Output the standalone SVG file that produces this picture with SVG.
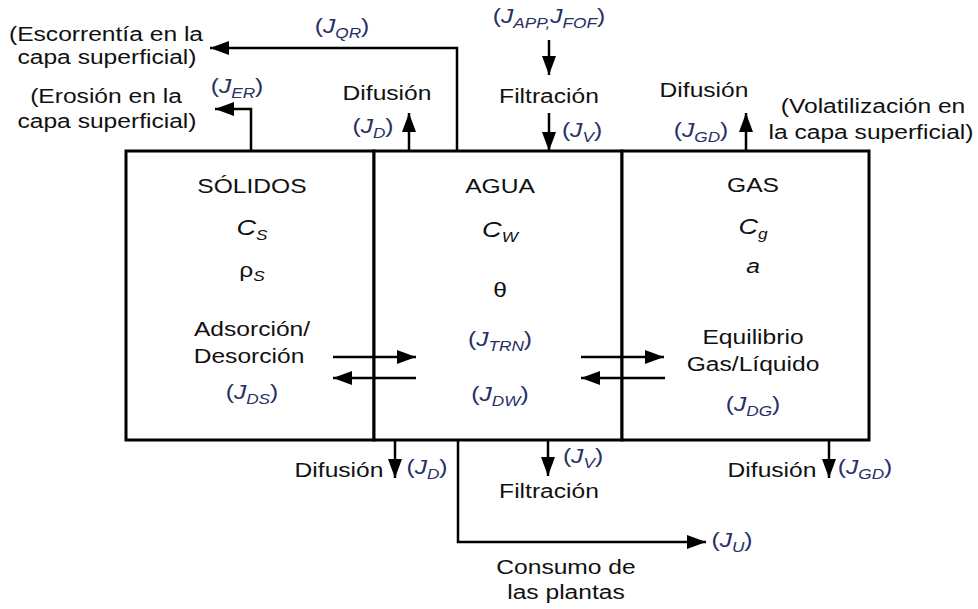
<svg xmlns="http://www.w3.org/2000/svg" width="978" height="609" viewBox="0 0 978 609">
<defs>
<marker id="ah" markerUnits="userSpaceOnUse" markerWidth="20" markerHeight="14" refX="19" refY="7" orient="auto">
<path d="M0,0 L19,7 L0,14 Z" fill="#000"/>
</marker>
<style>
text{font-family:"Liberation Sans",Arial,sans-serif;font-size:20px;fill:#111;text-anchor:middle}
.j{fill:#283064}
.i{font-style:italic}
.sub{font-size:14px;font-style:italic}
.ln{fill:none;stroke:#000;stroke-width:2.5}
.box{fill:#fff;stroke:#000;stroke-width:3}
</style>
</defs>
<rect width="978" height="609" fill="#fff"/>

<g id="solidos">
<rect class="box" x="126" y="151" width="248" height="289"/>
<text transform="translate(252,193) scale(1.23,1)">SÓLIDOS</text>
<text transform="translate(252,235) scale(1.23,1)"><tspan class="i" font-size="22">C</tspan><tspan class="sub" font-size="17" dy="5">S</tspan></text>
<text transform="translate(252,277) scale(1.23,1)">ρ<tspan class="sub" font-size="17" dy="4">S</tspan></text>
<text transform="translate(252,336) scale(1.23,1)">Adsorción/</text>
<text transform="translate(249,363) scale(1.23,1)">Desorción</text>
<text class="j" transform="translate(252,399) scale(1.23,1)">(<tspan class="i">J</tspan><tspan class="sub" dy="5">DS</tspan><tspan dy="-5">)</tspan></text>
</g>

<g id="agua">
<rect class="box" x="374" y="151" width="248" height="289"/>
<text transform="translate(500,193) scale(1.23,1)">AGUA</text>
<text transform="translate(500,237) scale(1.23,1)"><tspan class="i" font-size="22">C</tspan><tspan class="sub" font-size="17" dy="5">W</tspan></text>
<text transform="translate(500,297) scale(1.23,1)">θ</text>
<text class="j" transform="translate(500,346) scale(1.23,1)">(<tspan class="i">J</tspan><tspan class="sub" dy="5">TRN</tspan><tspan dy="-5">)</tspan></text>
<text class="j" transform="translate(500,401) scale(1.23,1)">(<tspan class="i">J</tspan><tspan class="sub" dy="5">DW</tspan><tspan dy="-5">)</tspan></text>
</g>

<g id="gas">
<rect class="box" x="622" y="151" width="247" height="289"/>
<text transform="translate(753,192) scale(1.23,1)">GAS</text>
<text transform="translate(753,234) scale(1.23,1)"><tspan class="i" font-size="22">C</tspan><tspan class="sub" font-size="17" dy="5">g</tspan></text>
<text class="i" transform="translate(753,273) scale(1.23,1)">a</text>
<text transform="translate(753,344) scale(1.23,1)">Equilibrio</text>
<text transform="translate(753,371) scale(1.23,1)">Gas/Líquido</text>
<text class="j" transform="translate(753,411) scale(1.23,1)">(<tspan class="i">J</tspan><tspan class="sub" dy="5">DG</tspan><tspan dy="-5">)</tspan></text>
</g>

<g id="connectors">
<path class="ln" d="M457,151 V48 H210" marker-end="url(#ah)"/>
<path class="ln" d="M251,151 V109 H215" marker-end="url(#ah)"/>
<path class="ln" d="M409,151 V113" marker-end="url(#ah)"/>
<path class="ln" d="M549,40 V75" marker-end="url(#ah)"/>
<path class="ln" d="M549,113 V151" marker-end="url(#ah)"/>
<path class="ln" d="M746,151 V113" marker-end="url(#ah)"/>
<path class="ln" d="M333,357 H416" marker-end="url(#ah)"/>
<path class="ln" d="M416,378 H333" marker-end="url(#ah)"/>
<path class="ln" d="M581,357 H664" marker-end="url(#ah)"/>
<path class="ln" d="M665,378 H581" marker-end="url(#ah)"/>
<path class="ln" d="M395,440 V478" marker-end="url(#ah)"/>
<path class="ln" d="M548,440 V476" marker-end="url(#ah)"/>
<path class="ln" d="M829,440 V478" marker-end="url(#ah)"/>
<path class="ln" d="M458,440 V542 H706" marker-end="url(#ah)"/>
</g>

<g id="labels">
<text transform="translate(106,41) scale(1.23,1)">(Escorrentía en la</text>
<text transform="translate(107,64) scale(1.23,1)">capa superficial)</text>
<text class="j" transform="translate(342,33) scale(1.23,1)">(<tspan class="i">J</tspan><tspan class="sub" dy="5">QR</tspan><tspan dy="-5">)</tspan></text>
<text class="j" transform="translate(237,93) scale(1.23,1)">(<tspan class="i">J</tspan><tspan class="sub" dy="5">ER</tspan><tspan dy="-5">)</tspan></text>
<text transform="translate(106,103) scale(1.23,1)">(Erosión en la</text>
<text transform="translate(107,128) scale(1.23,1)">capa superficial)</text>
<text transform="translate(387,100) scale(1.23,1)">Difusión</text>
<text class="j" transform="translate(373,133) scale(1.23,1)">(<tspan class="i">J</tspan><tspan class="sub" dy="5">D</tspan><tspan dy="-5">)</tspan></text>
<text class="j" transform="translate(549,23) scale(1.23,1)">(<tspan class="i">J</tspan><tspan class="sub" dy="5">APP,</tspan><tspan class="i" dy="-5">J</tspan><tspan class="sub" dy="5">FOF</tspan><tspan dy="-5">)</tspan></text>
<text transform="translate(549,103) scale(1.23,1)">Filtración</text>
<text class="j" transform="translate(582,137) scale(1.23,1)">(<tspan class="i">J</tspan><tspan class="sub" dy="5">V</tspan><tspan dy="-5">)</tspan></text>
<text transform="translate(704,97) scale(1.23,1)">Difusión</text>
<text class="j" transform="translate(701,137) scale(1.23,1)">(<tspan class="i">J</tspan><tspan class="sub" dy="5">GD</tspan><tspan dy="-5">)</tspan></text>
<text transform="translate(873,113) scale(1.23,1)">(Volatilización en</text>
<text transform="translate(871,139) scale(1.23,1)">la capa superficial)</text>

<text transform="translate(339,477) scale(1.23,1)">Difusión</text>
<text class="j" transform="translate(427,474) scale(1.23,1)">(<tspan class="i">J</tspan><tspan class="sub" dy="5">D</tspan><tspan dy="-5">)</tspan></text>
<text class="j" transform="translate(583,463) scale(1.23,1)">(<tspan class="i">J</tspan><tspan class="sub" dy="5">V</tspan><tspan dy="-5">)</tspan></text>
<text transform="translate(549,498) scale(1.23,1)">Filtración</text>
<text transform="translate(772,477) scale(1.23,1)">Difusión</text>
<text class="j" transform="translate(865,474) scale(1.23,1)">(<tspan class="i">J</tspan><tspan class="sub" dy="5">GD</tspan><tspan dy="-5">)</tspan></text>
<text class="j" transform="translate(732,547) scale(1.23,1)">(<tspan class="i">J</tspan><tspan class="sub" dy="5">U</tspan><tspan dy="-5">)</tspan></text>
<text transform="translate(566,574) scale(1.23,1)">Consumo de</text>
<text transform="translate(566,599) scale(1.23,1)">las plantas</text>
</g>
</svg>
